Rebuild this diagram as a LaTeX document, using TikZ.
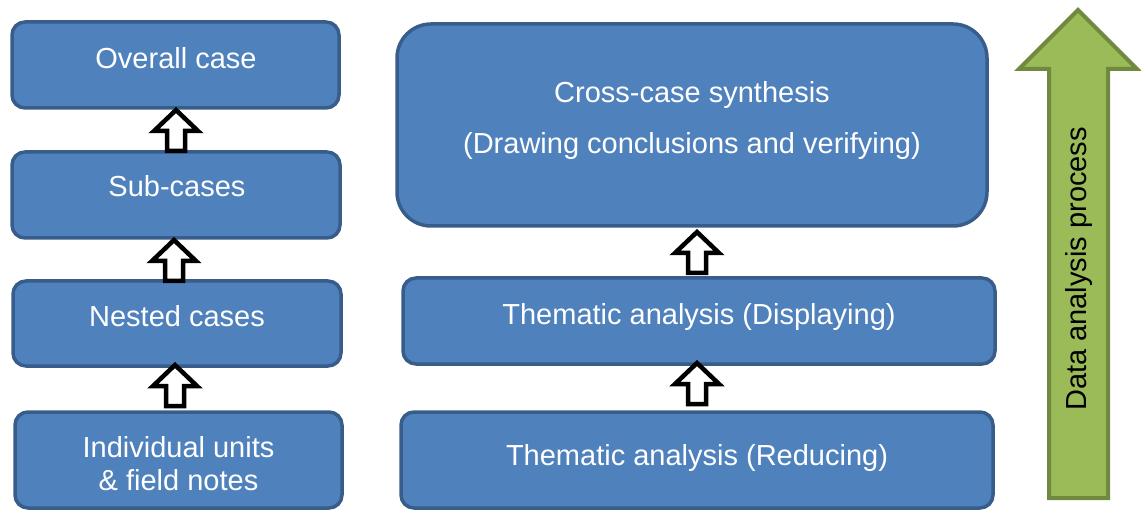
\documentclass[tikz,border=0pt]{standalone}
\usepackage{fontspec}
\setmainfont{Liberation Sans}
\definecolor{boxfill}{HTML}{4F81BD}
\definecolor{boxline}{HTML}{385D8A}
\definecolor{grfill}{HTML}{9BBB59}
\definecolor{grline}{HTML}{71893F}
\begin{document}
\begin{tikzpicture}[x=1pt,y=-1pt,
  box/.style={draw=boxline, fill=boxfill, line width=3.5pt, rounded corners=13pt, inner sep=0pt, minimum width=#1},
  txt/.style={text=white, font=\fontsize{29}{33}\selectfont, inner sep=0pt, text height=0.72em, text depth=0.21em},
  uparr/.pic={\draw[line width=4.5pt, fill=white, draw=black, miter limit=10]
     (-9,0) -- (-9,-20) -- (-22,-20) -- (0,-41) -- (22,-20) -- (9,-20) -- (9,0) -- cycle;}
]
\useasboundingbox (0,0) rectangle (1141,513);
% left column
\node[box=327pt, minimum height=86pt] (b1) at (175.5,65) {};
\node[box=328pt, minimum height=86pt] (b2) at (176,195) {};
\node[box=328pt, minimum height=85pt] (b3) at (177,323.5) {};
\node[box=327pt, minimum height=96pt] (b4) at (178.5,460) {};
\node[txt] (t1) at (176,66) {Overall case};
\node[txt] (t2) at (177,194) {Sub-cases};
\node[txt] (t3) at (177,324) {Nested cases};
\node[txt] (t4a) at (178.5,455) {Individual units};
\node[txt] (t4b) at (178.5,488) {\& field notes};
% right column
\node[box=590pt, minimum height=202pt, rounded corners=34pt] (b5) at (692,125) {};
\node[box=592pt, minimum height=86pt] (b6) at (699,321) {};
\node[box=592pt, minimum height=96pt] (b7) at (697,460) {};
\node[txt] (t5a) at (692,100) {Cross-case synthesis};
\node[txt] (t5b) at (692,151) {(Drawing conclusions and verifying)};
\node[txt] (t6) at (699,322) {Thematic analysis (Displaying)};
\node[txt] (t7) at (697,463) {Thematic analysis (Reducing)};
% small block arrows
\coordinate (a1) at (176,151);
\coordinate (a2) at (174,281);
\coordinate (a3) at (175,406);
\coordinate (a4) at (697,273);
\coordinate (a5) at (697,404);
\pic at (a1) {uparr};
\pic at (a2) {uparr};
\pic at (a3) {uparr};
\pic at (a4) {uparr};
\pic at (a5) {uparr};
% green process arrow
\draw[line width=4pt, draw=grline, fill=grfill, miter limit=10]
  (1049,498) -- (1049,69) -- (1019,69) -- (1078,10) -- (1137,69) -- (1108,69) -- (1108,498) -- cycle;
\node[txt, text=black, rotate=90] (dap) at (1084,269) {Data analysis process};
\end{tikzpicture}
\end{document}
